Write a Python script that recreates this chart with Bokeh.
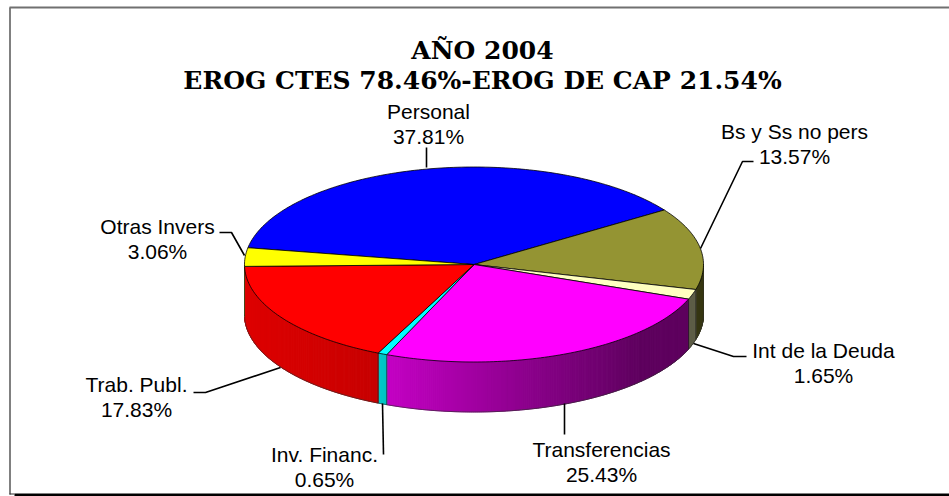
import numpy as np
from bokeh.plotting import figure
from bokeh.core.properties import value
from bokeh.embed import file_html
from bokeh.resources import INLINE

# ---- data ----
categories = ["Personal", "Bs y Ss no pers", "Int de la Deuda", "Transferencias",
              "Inv. Financ.", "Trab. Publ.", "Otras Invers"]
shares = [37.81, 13.57, 1.65, 25.43, 0.65, 17.83, 3.06]
colors = ["#0000FF", "#949433", "#FFFFC0", "#FF00FF", "#00FFFF", "#FF0000", "#FFFF00"]
title_lines = ["AÑO 2004", "EROG CTES 78.46%-EROG DE CAP 21.54%"]

# ---- layout ----
W, H = 949, 496
CX, CY, RX, RY, DEPTH = 473.5, 264.0, 229.5, 97.5, 50.0
START_DEG = -80.1
label_xy = [(428, 111), (794, 131), (823, 350), (601, 449), (324, 454), (136, 384), (157, 226)]
LINE_STEP = 24.5
leaders = [
    [(426, 147), (426, 167)],
    [(753, 161), (742, 161), (700, 248)],
    [(746, 356), (733, 356), (693, 343)],
    [(564, 403), (564, 434)],
    [(382, 403), (383, 454)],
    [(193, 392), (205, 392), (280, 367)],
    [(219, 232), (231, 232), (244, 255)],
]

def shade(x):
    return np.interp(x, [244, 378, 640, 703], [0.87, 0.78, 0.37, 0.37])

def rgb(c):
    return tuple(int(c[i:i + 2], 16) for i in (1, 3, 5))

def pt(deg):
    a = np.radians(deg)
    return CX + RX * np.sin(a), CY - RY * np.cos(a)

p = figure(width=W, height=H, x_range=(0, W), y_range=(H, 0), output_backend="svg",
           toolbar_location=None, min_border=0, margin=(0, 0, 0, 0))
p.axis.visible = False
p.grid.visible = False
p.outline_line_color = None
p.background_fill_color = "#FFFFFF"
p.border_fill_color = "#FFFFFF"

# chart frame
p.line([9.5, 9.5], [7, 494], line_color="#808080", line_width=2)
p.line([9, W], [7, 7], line_color="#707070", line_width=2)
p.line([9, 14], [493.5, 493.5], line_color="#303030", line_width=1)
p.line([14, W], [494.5, 494.5], line_color="#000000", line_width=3)

# slice boundaries, clockwise from the first slice
edges = START_DEG + np.concatenate([[0], np.cumsum(shares)]) * 3.6

# side wall: only the front half (90..270 degrees clockwise from top)
wx, wy, wc = [], [], []
for i, col in enumerate(colors):
    lo, hi = max(edges[i], 90), min(edges[i + 1], 270)
    if lo >= hi:
        continue
    n = max(2, int((hi - lo) / 0.5))
    angs = np.linspace(lo, hi, n + 1)
    base = rgb(col)
    for a0, a1 in zip(angs[:-1], angs[1:]):
        x0, y0 = pt(a0)
        x1, y1 = pt(a1)
        s = shade((x0 + x1) / 2)
        wx.append([x0, x1, x1, x0])
        wy.append([y0, y1, y1 + DEPTH, y0 + DEPTH])
        r, g, b = [int(round(v * s)) for v in base]
        wc.append(f"#{r:02x}{g:02x}{b:02x}")
p.patches(wx, wy, fill_color=wc, line_color=wc, line_width=1.0)

# wall outline and slice separators on the wall
ang = np.linspace(90, 270, 181)
ox, oy = pt(ang)
p.line(ox, oy + DEPTH, line_color="#303030", line_width=0.8, line_alpha=0.8)
for e in [90, 270]:
    x, y = pt(e)
    p.line([x, x], [y, y + DEPTH], line_color="#303030", line_width=0.6, line_alpha=0.7)
for e in edges:
    if 90 <= e % 360 <= 270:
        x, y = pt(e)
        p.line([x, x], [y, y + DEPTH], line_color="#202020", line_width=0.7)

# top face
tx, ty = [], []
for i in range(len(shares)):
    a = np.linspace(edges[i], edges[i + 1], max(3, int(shares[i] * 3.6)) + 1)
    x, y = pt(a)
    tx.append(np.concatenate([[CX], x]))
    ty.append(np.concatenate([[CY], y]))
p.patches(tx, ty, fill_color=colors, line_color="#000000", line_width=0.8)

# leader lines
for seg in leaders:
    p.line([q[0] for q in seg], [q[1] for q in seg], line_color="#000000", line_width=1.6)

# labels
for name, v, (x, y) in zip(categories, shares, label_xy):
    p.text([x], [y], text=[name], text_font=value("Liberation Sans"), text_font_size="21px",
           text_align="center", text_baseline="middle", text_color="#000000")
    p.text([x], [y + LINE_STEP], text=[f"{v:.2f}%"], text_font=value("Liberation Sans"),
           text_font_size="21px", text_align="center", text_baseline="middle", text_color="#000000")

# title
for t, y in zip(title_lines, [50, 80]):
    p.text([482], [y], text=[t], text_font=value("DejaVu Serif"), text_font_style="bold",
           text_font_size="25px", text_align="center", text_baseline="middle", text_color="#000000")

open("out.html", "w").write(file_html(p, INLINE))
